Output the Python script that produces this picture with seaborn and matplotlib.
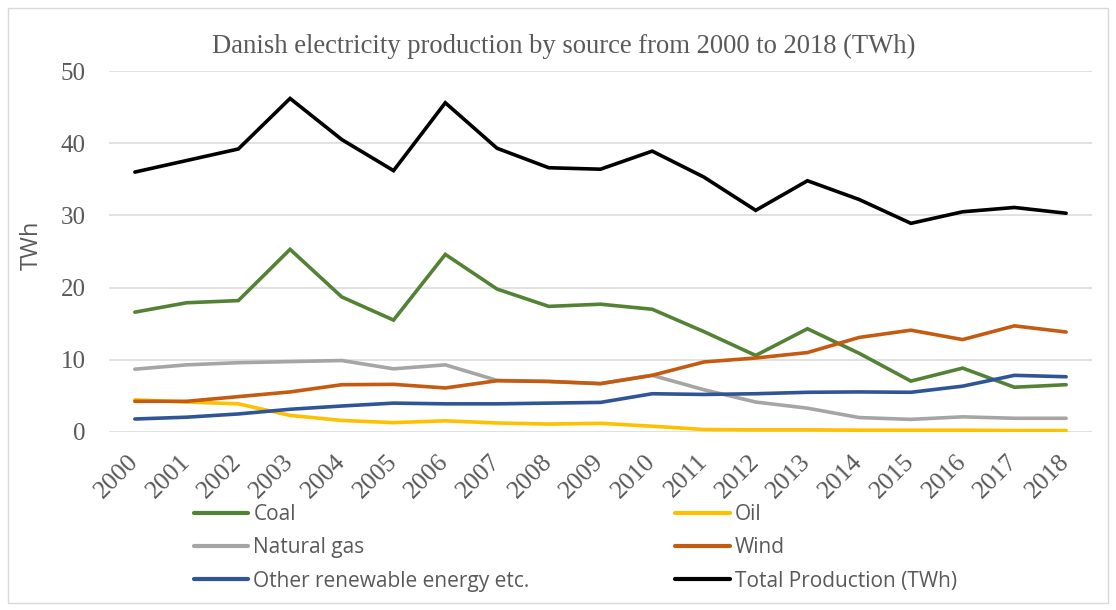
import matplotlib
matplotlib.use("Agg")
import matplotlib.pyplot as plt
from matplotlib.patches import Rectangle
import seaborn as sns
import pandas as pd

years = [str(y) for y in range(2000, 2019)]
coal = [16.6, 17.9, 18.2, 25.3, 18.7, 15.5, 24.6, 19.8, 17.4, 17.7, 17.0, 13.9, 10.6, 14.3, 10.9, 7.05, 8.85, 6.2, 6.55]
oil = [4.45, 4.15, 3.9, 2.3, 1.6, 1.3, 1.55, 1.25, 1.1, 1.2, 0.8, 0.35, 0.3, 0.3, 0.25, 0.25, 0.25, 0.2, 0.2]
natural_gas = [8.7, 9.3, 9.6, 9.75, 9.9, 8.75, 9.3, 7.15, 7.0, 6.7, 7.85, 5.85, 4.15, 3.3, 2.0, 1.75, 2.1, 1.9, 1.9]
wind = [4.25, 4.25, 4.9, 5.55, 6.55, 6.6, 6.1, 7.1, 7.0, 6.7, 7.85, 9.7, 10.25, 11.0, 13.1, 14.1, 12.8, 14.7, 13.85]
other_renewable = [1.8, 2.05, 2.5, 3.15, 3.6, 4.0, 3.9, 3.9, 4.0, 4.1, 5.3, 5.2, 5.3, 5.5, 5.55, 5.5, 6.35, 7.85, 7.65]
total = [36.0, 37.6, 39.2, 46.2, 40.5, 36.2, 45.6, 39.3, 36.6, 36.4, 38.9, 35.3, 30.7, 34.8, 32.2, 28.9, 30.5, 31.1, 30.3]

series_names = ["Coal", "Oil", "Natural gas", "Wind", "Other renewable energy etc.", "Total Production (TWh)"]
series_values = [coal, oil, natural_gas, wind, other_renewable, total]
colors = ["#548235", "#FFC000", "#A5A5A5", "#C55A11", "#2F5597", "#000000"]

rows = []
for name, vals in zip(series_names, series_values):
    for i, (yr, v) in enumerate(zip(years, vals)):
        rows.append({"idx": i, "year": yr, "source": name, "TWh": v})
df = pd.DataFrame(rows)

sns.set_theme(style="white")
text_grey = "#595959"
serif = ["Liberation Serif", "DejaVu Serif"]
sans = ["Open Sans", "DejaVu Sans"]

W, H = 1116, 610
fig = plt.figure(figsize=(W / 100, H / 100), dpi=100)
ax = fig.add_axes([109 / W, 1 - 432 / H, (1092 - 109) / W, (432 - 71) / H])

sns.lineplot(data=df, x="idx", y="TWh", hue="source", hue_order=series_names,
             palette=dict(zip(series_names, colors)), linewidth=2.6,
             sort=False, legend=False, ax=ax)
for ln in ax.get_lines():
    ln.set_solid_capstyle("round")
    ln.set_solid_joinstyle("miter")

ax.set_xlim(-0.5, len(years) - 0.5)
ax.set_ylim(0, 50)
ax.set_yticks([0, 10, 20, 30, 40, 50])
ax.set_xticks(range(len(years)))
ax.set_xticklabels(years)
ax.set_xlabel("")
ax.set_ylabel("")
ax.grid(axis="y", color="#D9D9D9", linewidth=1.1)
ax.grid(axis="x", visible=False)
ax.set_axisbelow(True)
for s in ax.spines.values():
    s.set_visible(False)
ax.tick_params(axis="both", length=0)
ax.tick_params(axis="y", pad=17)
ax.tick_params(axis="x", pad=19)
for t in ax.get_yticklabels():
    t.set_fontfamily(serif)
    t.set_fontsize(18)
    t.set_color(text_grey)
for t in ax.get_xticklabels():
    t.set_fontfamily(serif)
    t.set_fontsize(18.5)
    t.set_color(text_grey)
    t.set_rotation(45)
    t.set_ha("right")
    t.set_va("center")
    t.set_rotation_mode("anchor")

fig.text(564 / W, 1 - 46 / H, "Danish electricity production by source from 2000 to 2018 (TWh)",
         ha="center", va="center", fontsize=19.2, family=serif, color=text_grey)
fig.text(32 / W, 1 - 245 / H, "TWh", rotation=90, ha="center", va="center",
         fontsize=17, family=sans, color=text_grey)

lines = ax.get_lines()
order = [0, 2, 4, 1, 3, 5]
leg = fig.legend([lines[i] for i in order], [series_names[i] for i in order],
                 loc="upper left", bbox_to_anchor=(194 / W, 1 - 504 / H), ncol=2,
                 frameon=False, borderpad=0, borderaxespad=0,
                 handlelength=2.6, handletextpad=0.25, columnspacing=7.0,
                 labelspacing=0.59, prop={"family": sans, "size": 15})
for t in leg.get_texts():
    t.set_color(text_grey)
for h in leg.legend_handles:
    h.set_linewidth(3)

fig.patches.append(Rectangle((8 / W, 7 / H), 1100 / W, 595 / H, transform=fig.transFigure,
                             fill=False, edgecolor="#D9D9D9", linewidth=1))

fig.savefig("out.png", dpi=100)
